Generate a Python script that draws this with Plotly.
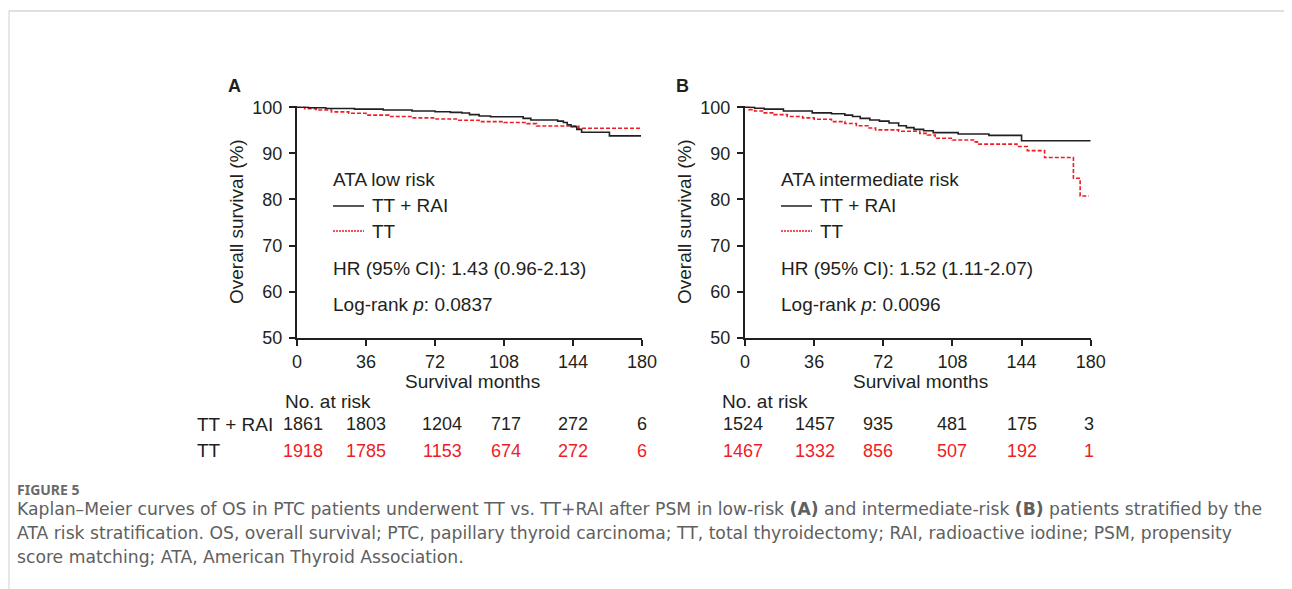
import plotly.graph_objects as go

# page body has an 8px margin: the figure is sized to fill the rest of the window
OX, OY = 8, 8
W, H = 1292 - OX, 589 - OY

# ---------------- data ----------------
x_ticks = [0, 36, 72, 108, 144, 180]
y_ticks = [50, 60, 70, 80, 90, 100]

a_rai_t = [0, 6, 15, 30, 45, 60, 72, 80, 86, 90, 95, 101, 118, 122, 136, 139, 141, 143, 146, 148.5, 163, 179.5]
a_rai_s = [100, 99.9, 99.75, 99.6, 99.4, 99.2, 99.05, 98.9, 98.75, 98.4, 98.1, 97.95, 97.6, 97.25, 97.0, 96.7, 96.2, 95.8, 95.2, 94.6, 93.8, 93.8]
a_tt_t = [0, 4, 10, 18, 27, 36, 48, 60, 72, 84, 95, 108, 120, 125, 147, 180]
a_tt_s = [100, 99.7, 99.4, 99.0, 98.7, 98.3, 98.0, 97.7, 97.45, 97.2, 96.9, 96.7, 96.45, 95.95, 95.45, 95.45]

b_rai_t = [0, 5, 10, 20, 35, 45, 52, 56, 60, 65, 70, 75, 80, 84, 88, 93, 98, 111, 127, 144, 180]
b_rai_s = [100, 99.8, 99.6, 99.2, 98.8, 98.6, 98.3, 98.0, 97.6, 97.25, 97.0, 96.6, 96.0, 95.6, 95.2, 94.9, 94.5, 94.2, 93.9, 92.75, 92.75]
b_tt_t = [0, 2, 5, 10, 15, 22, 30, 36, 45, 52, 58, 64, 68, 80, 91, 95, 99, 108, 119, 121, 141.6, 147, 156, 171, 174.5, 179]
b_tt_s = [100, 99.5, 99.2, 98.8, 98.4, 98.0, 97.7, 97.4, 96.9, 96.5, 96.0, 95.5, 95.1, 94.8, 94.35, 94.0, 93.3, 92.9, 92.5, 92.0, 91.5, 90.6, 89.1, 84.6, 80.75, 80.75]

a_risk_rai = [1861, 1803, 1204, 717, 272, 6]
a_risk_tt = [1918, 1785, 1153, 674, 272, 6]
b_risk_rai = [1524, 1457, 935, 481, 175, 3]
b_risk_tt = [1467, 1332, 856, 507, 192, 1]

panel_titles = ["ATA low risk", "ATA intermediate risk"]
hr_texts = ["HR (95% CI): 1.43 (0.96-2.13)", "HR (95% CI): 1.52 (1.11-2.07)"]
p_texts = ["Log-rank <i>p</i>: 0.0837", "Log-rank <i>p</i>: 0.0096"]
group_names = ["TT + RAI", "TT"]

caption_head = "FIGURE 5"
caption_lines = [
    "Kaplan\u2013Meier curves of OS in PTC patients underwent TT vs. TT+RAI after PSM in low-risk <b>(A)</b> and intermediate-risk <b>(B)</b> patients stratified by the",
    "ATA risk stratification. OS, overall survival; PTC, papillary thyroid carcinoma; TT, total thyroidectomy; RAI, radioactive iodine; PSM, propensity",
    "score matching; ATA, American Thyroid Association.",
]

# ---------------- style ----------------
BLACK = "#231f20"
RED = "#ee1c25"
FONT = "Liberation Sans, Arial, sans-serif"
FS = 19      # labels / annotations
FT = 18      # tick labels and numbers

def px(x):
    return (x - OX) / W

def py(y):
    return 1 - (y - OY) / H

# pixel geometry (window coordinates)
y_top_px, y_bot_px = 107.3, 337.7
ymax = 100.25
scale = (y_bot_px - y_top_px) / 50.0
top_px = y_top_px - (ymax - 100) * scale
panels = [
    dict(x0=297, x1=642, risk_left=285.7, risk_shift=[6, 0, 7, 2, 0, 0]),
    dict(x0=745, x1=1090.7, risk_left=723, risk_shift=[-2, 1, -5, 0, 0, -2]),
]

fig = go.Figure()

series = [(a_rai_t, a_rai_s, a_tt_t, a_tt_s), (b_rai_t, b_rai_s, b_tt_t, b_tt_s)]
for i, (rt, rs, tt, ts) in enumerate(series):
    xa = "x" if i == 0 else "x2"
    ya = "y" if i == 0 else "y2"
    fig.add_trace(go.Scatter(x=tt, y=ts, mode="lines", line=dict(color=RED, width=1.6, dash="4px,2px", shape="hv"),
                             xaxis=xa, yaxis=ya, showlegend=False, hoverinfo="skip"))
    fig.add_trace(go.Scatter(x=rt, y=rs, mode="lines", line=dict(color=BLACK, width=1.6, shape="hv"),
                             xaxis=xa, yaxis=ya, showlegend=False, hoverinfo="skip"))

axis_common = dict(showgrid=False, zeroline=False, showline=True, linecolor=BLACK, linewidth=2,
                   ticks="outside", ticklen=6, tickwidth=2, tickcolor=BLACK, automargin=False,
                   tickfont=dict(family=FONT, size=FT, color=BLACK))
layout = dict(
    width=W, height=H, margin=dict(l=0, r=0, t=0, b=0, pad=0, autoexpand=False),
    paper_bgcolor="white", plot_bgcolor="white",
    font=dict(family=FONT, size=FS, color=BLACK),
)
for i, p in enumerate(panels):
    sx = "" if i == 0 else "2"
    layout["xaxis" + sx] = dict(axis_common, domain=[px(p["x0"]), px(p["x1"])], range=[0, 180],
                                tickvals=x_ticks, anchor="y" + sx, ticklabelstandoff=1)
    layout["yaxis" + sx] = dict(axis_common, domain=[py(y_bot_px), py(top_px)], range=[50, ymax],
                                tickvals=y_ticks, anchor="x" + sx, ticklabelstandoff=3)
fig.update_layout(**layout)

ann = []
shapes = []
risk_sets = [(a_risk_rai, a_risk_tt), (b_risk_rai, b_risk_tt)]
for i, p in enumerate(panels):
    x0 = p["x0"]
    xs = "x" if i == 0 else "x2"
    tx = x0 + 33.5   # text left (annotation has ~3px inner padding)
    lx = x0 + 36     # legend sample line start
    gx = x0 + 73     # group label left
    ann.append(dict(x=px(x0 - 71), y=py(86), xref="paper", yref="paper", text="<b>%s</b>" % "AB"[i],
                    showarrow=False, xanchor="left", yanchor="middle", font=dict(size=FT)))
    ann.append(dict(x=px(x0 - 60), y=py(222), xref="paper", yref="paper", text="Overall survival (%)",
                    textangle=-90, showarrow=False, xanchor="center", yanchor="middle", font=dict(size=FS)))
    ann.append(dict(x=px((p["x0"] + p["x1"]) / 2 + 3), y=py(381), xref="paper", yref="paper",
                    text="Survival months", showarrow=False, xanchor="center", yanchor="middle", font=dict(size=FS)))
    ann.append(dict(x=px(tx), y=py(180), xref="paper", yref="paper", text=panel_titles[i],
                    showarrow=False, xanchor="left", yanchor="middle", font=dict(size=FS)))
    ann.append(dict(x=px(gx), y=py(206), xref="paper", yref="paper", text=group_names[0],
                    showarrow=False, xanchor="left", yanchor="middle", font=dict(size=FS)))
    ann.append(dict(x=px(gx), y=py(231), xref="paper", yref="paper", text=group_names[1],
                    showarrow=False, xanchor="left", yanchor="middle", font=dict(size=FS)))
    ann.append(dict(x=px(tx), y=py(268), xref="paper", yref="paper", text=hr_texts[i],
                    showarrow=False, xanchor="left", yanchor="middle", font=dict(size=FS)))
    ann.append(dict(x=px(tx), y=py(304), xref="paper", yref="paper", text=p_texts[i],
                    showarrow=False, xanchor="left", yanchor="middle", font=dict(size=FS)))
    shapes.append(dict(type="line", xref="paper", yref="paper", x0=px(lx), x1=px(lx + 31), y0=py(206), y1=py(206),
                       line=dict(color=BLACK, width=1.5)))
    shapes.append(dict(type="line", xref="paper", yref="paper", x0=px(lx), x1=px(lx + 31), y0=py(231), y1=py(231),
                       line=dict(color=RED, width=1.5, dash="2px,1px")))
    ann.append(dict(x=px(p["risk_left"] - 3), y=py(401), xref="paper", yref="paper", text="No. at risk",
                    showarrow=False, xanchor="left", yanchor="middle", font=dict(size=FS)))
    rai, tt = risk_sets[i]
    for t, v1, v2, sh in zip(x_ticks, rai, tt, p["risk_shift"]):
        ann.append(dict(x=t, y=py(424), xref=xs, yref="paper", text=str(v1), showarrow=False, xshift=sh,
                        xanchor="center", yanchor="middle", font=dict(size=FT, color=BLACK)))
        ann.append(dict(x=t, y=py(451), xref=xs, yref="paper", text=str(v2), showarrow=False, xshift=sh,
                        xanchor="center", yanchor="middle", font=dict(size=FT, color=RED)))

ann.append(dict(x=px(195), y=py(424), xref="paper", yref="paper", text=group_names[0], showarrow=False,
                xanchor="left", yanchor="middle", font=dict(size=FS)))
ann.append(dict(x=px(195), y=py(451), xref="paper", yref="paper", text=group_names[1], showarrow=False,
                xanchor="left", yanchor="middle", font=dict(size=FS)))

# caption
CAP_FONT = "DejaVu Sans, Noto Sans, sans-serif"
ann.append(dict(x=px(15), y=py(489), xref="paper", yref="paper", text="<b>" + caption_head + "</b>", showarrow=False,
                xanchor="left", yanchor="middle", font=dict(family="Noto Sans, sans-serif", size=14, color="#6a6a6a")))
for k, line in enumerate(caption_lines):
    ann.append(dict(x=px(15), y=py(509 + 24 * k), xref="paper", yref="paper", text=line, showarrow=False,
                    xanchor="left", yanchor="middle", font=dict(family=CAP_FONT, size=17.2, color="#606060")))

# card border
shapes.append(dict(type="line", xref="paper", yref="paper", x0=px(9), x1=1, y0=py(11), y1=py(11),
                   line=dict(color="#d6d6d6", width=1.5)))
shapes.append(dict(type="line", xref="paper", yref="paper", x0=px(9), x1=px(9), y0=py(11), y1=0,
                   line=dict(color="#d0d0d0", width=1)))

fig.update_layout(annotations=ann, shapes=shapes)
fig.write_html("out.html")
